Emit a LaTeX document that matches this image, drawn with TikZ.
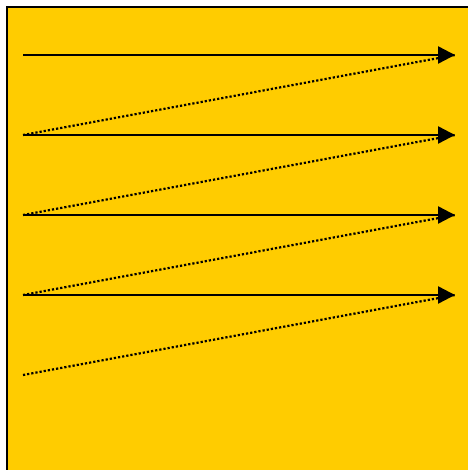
\documentclass[tikz,border=0pt]{standalone}
\usetikzlibrary{arrows.meta}
\definecolor{bg}{HTML}{FFCC00}
\begin{document}
\begin{tikzpicture}[x=1pt,y=-1pt,
  solidline/.style={line width=2.4pt,-{Triangle[length=17pt,width=17pt]}},
  dotline/.style={line width=2.2pt,dash pattern=on 2.2pt off 2pt}]
\useasboundingbox (0,0) rectangle (467,470);
\fill[bg] (7,7) rectangle (480,480);
\draw[line width=2.4pt] (7,480) -- (7,7) -- (480,7);
\foreach \i/\y in {1/55,2/135,3/215,4/295,5/375}{
  \coordinate (L\i) at (23,\y);
  \coordinate (R\i) at (455,\y);
}
\foreach \i in {1,2,3,4}{
  \draw[solidline] (L\i) -- (R\i);
}
\foreach \i/\j in {2/1,3/2,4/3,5/4}{
  \draw[dotline] (L\i) -- (R\j);
}
\end{tikzpicture}
\end{document}
